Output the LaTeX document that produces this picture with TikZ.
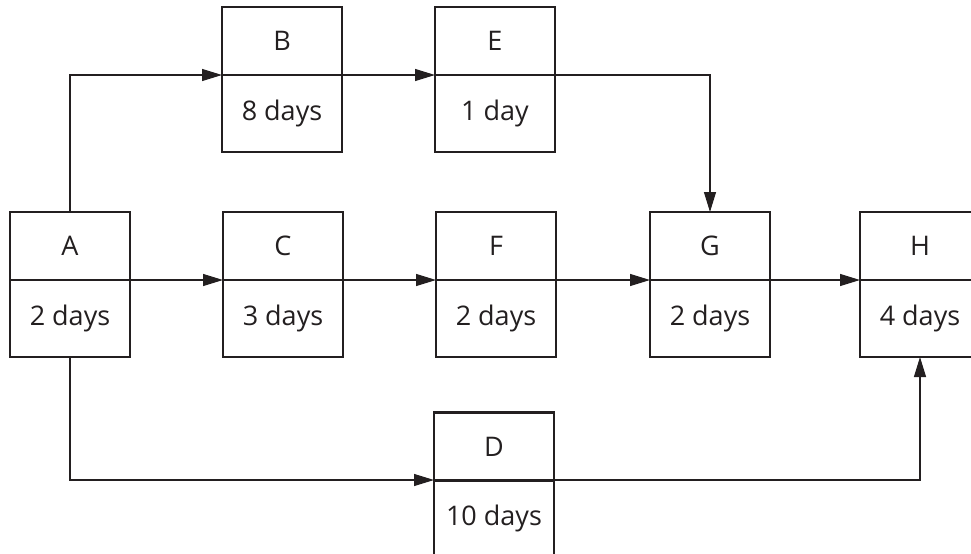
\documentclass[tikz,border=0pt]{standalone}
\usepackage{fontspec}
\setmainfont{Open Sans}
\usetikzlibrary{arrows.meta}
\definecolor{ink}{HTML}{231F20}
\tikzset{
  upper/.style={draw=ink, line width=1.35pt, minimum width=60pt, minimum height=34pt, inner sep=0pt, outer sep=0pt, text=ink, font=\fontsize{13.5pt}{16pt}\selectfont},
  lower/.style={draw=ink, line width=1.35pt, minimum width=60pt, minimum height=38.5pt, inner sep=0pt, outer sep=0pt, text=ink, font=\fontsize{13.5pt}{16pt}\selectfont},
  conn/.style={draw=ink, line width=0.6pt, -{Triangle[length=10pt,width=6pt]}}
}
\begin{document}
\begin{tikzpicture}[x=0.5pt,y=-0.5pt]
\useasboundingbox (0,0) rectangle (971,553);
% boxes
\node[upper] (A) at (70,246) {A};
\node[lower] (Ad) at (70,318.5) {2 days};
\node[upper] (B) at (282,41) {B};
\node[lower] (Bd) at (282,113.5) {8 days};
\node[upper] (C) at (283,246) {C};
\node[lower] (Cd) at (283,318.5) {3 days};
\node[upper] (E) at (495,41) {E};
\node[lower] (Ed) at (495,113.5) {1 day};
\node[upper] (F) at (496,246) {F};
\node[lower] (Fd) at (496,318.5) {2 days};
\node[upper] (D) at (494,446.5) {D};
\node[lower] (Dd) at (494,518.5) {10 days};
\node[upper] (G) at (710,246) {G};
\node[lower] (Gd) at (710,318.5) {2 days};
\node[upper] (H) at (920,246) {H};
\node[lower] (Hd) at (920,318.5) {4 days};
% connectors
\draw[conn] (A.north) |- (Bd.north west);
\draw[conn] (Ad.north east) -- (Cd.north west);
\draw[conn] (Ad.south) |- (Dd.north west);
\draw[conn] (Bd.north east) -- (Ed.north west);
\draw[conn] (Ed.north east) -| (G.north);
\draw[conn] (Cd.north east) -- (Fd.north west);
\draw[conn] (Fd.north east) -- (Gd.north west);
\draw[conn] (Gd.north east) -- (Hd.north west);
\draw[conn] (Dd.north east) -| (Hd.south);
\end{tikzpicture}
\end{document}
